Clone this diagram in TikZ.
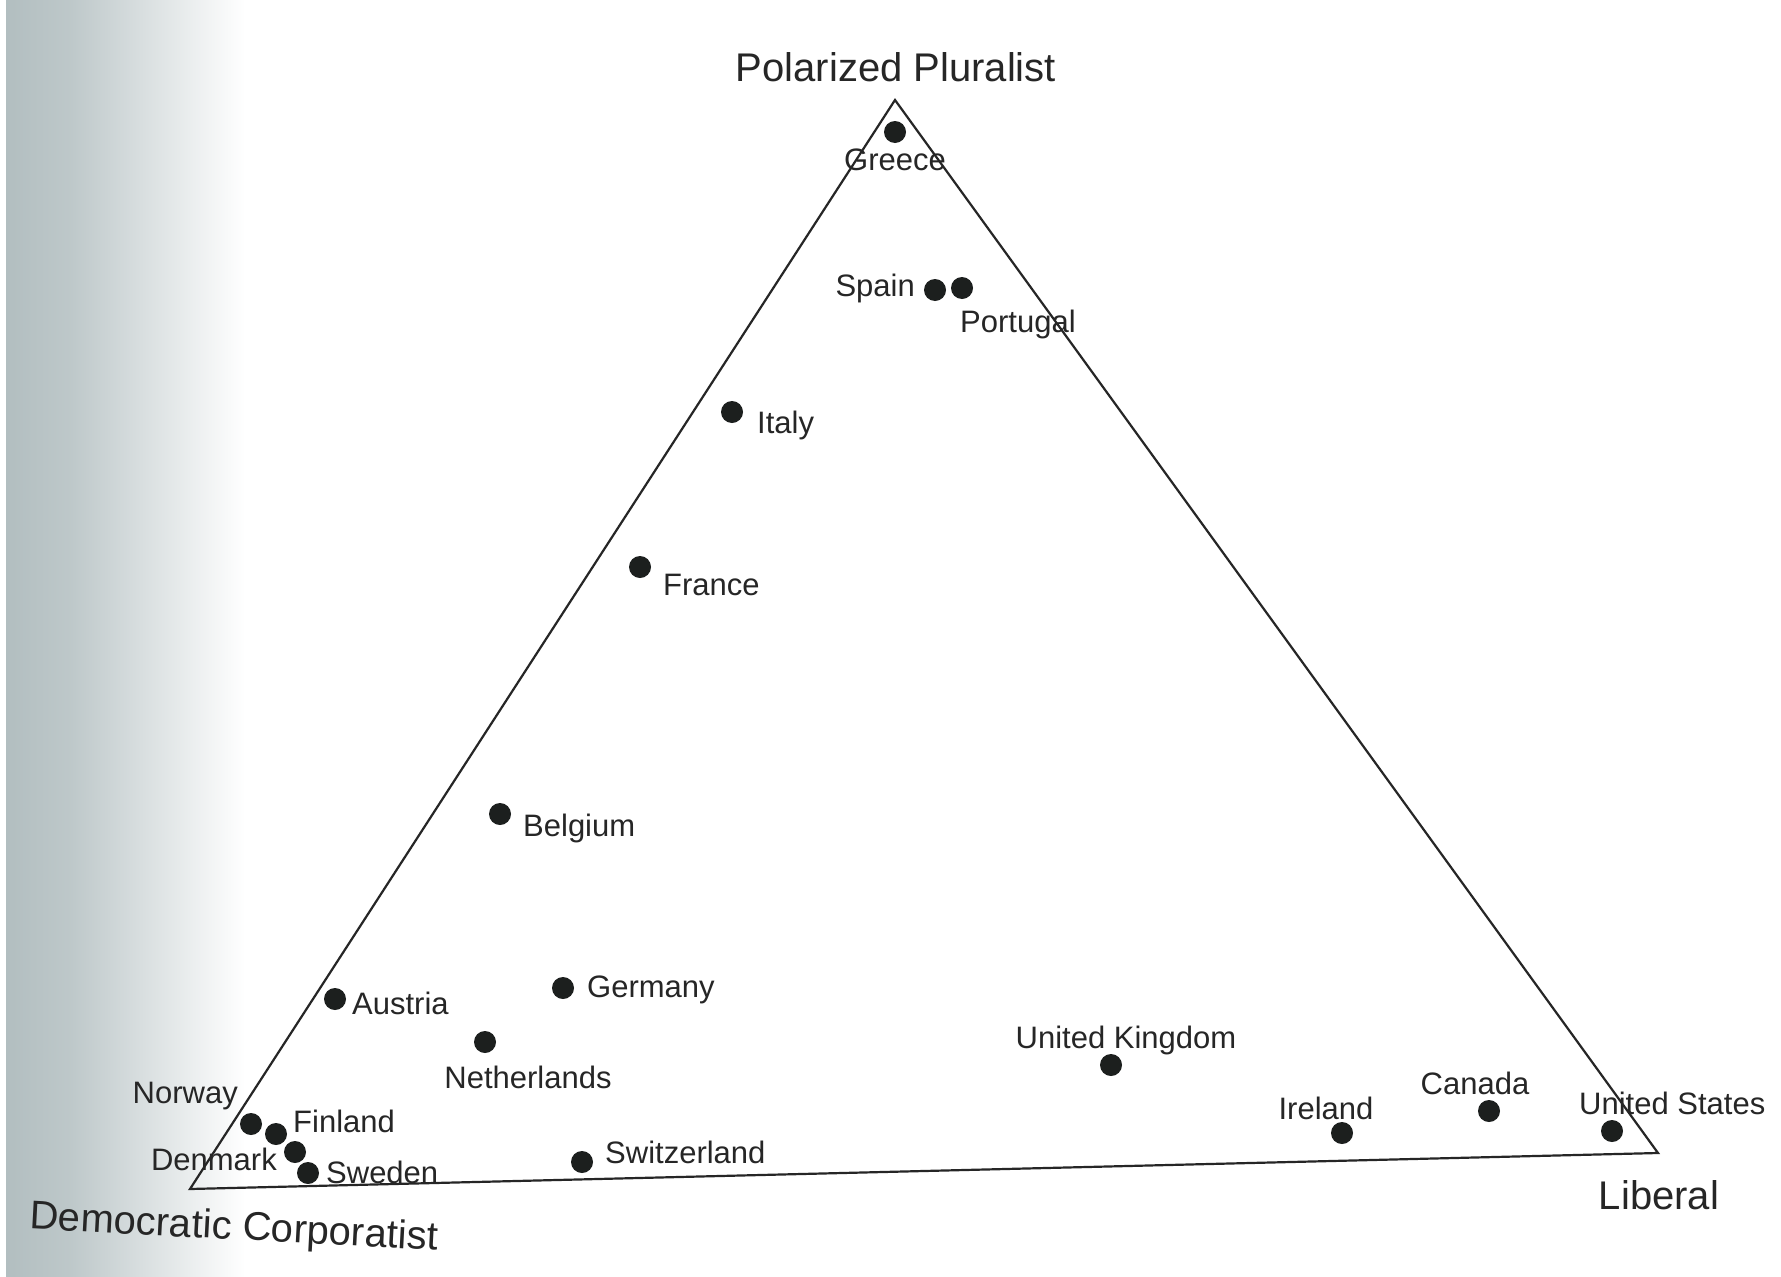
\documentclass[tikz,border=0pt]{standalone}
\usepackage{fontspec}
\setmainfont{Liberation Sans}
\definecolor{ink}{RGB}{38,38,38}
\definecolor{dotink}{RGB}{28,31,30}
\definecolor{gutter}{RGB}{178,190,192}
\tikzset{
  dot/.style={circle, fill=dotink, inner sep=0pt, minimum size=22pt},
  lbl/.style={inner sep=0pt, text=ink, text height=22pt, text depth=0pt,
    font=\fontsize{31}{31}\selectfont},
  corner/.style={inner sep=0pt, text=ink, text height=29pt, text depth=0pt,
    font=\fontsize{40}{40}\selectfont}
}
\begin{document}
\begin{tikzpicture}[x=1pt, y=-1pt]
	\fill[white] (0,0) rectangle (1781,1277);
	\shade[left color=gutter, right color=gutter!85!white] (6,0) rectangle (70,1277);
	\shade[left color=gutter!85!white, right color=white] (70,0) rectangle (245,1277);
	\useasboundingbox (0,0) rectangle (1781,1277);
	% corners of the triangle
	\coordinate (pp) at (895,100);
	\coordinate (dc) at (190,1189);
	\coordinate (lib) at (1658,1153);
	\draw[ink, line width=2.2pt] (pp) -- (dc) -- (lib) -- cycle;
	% countries
	\foreach \n/\x/\y in {greece/895/132, spain/935/290, portugal/962/288, italy/732/412,
	  france/640/567, belgium/500/814, austria/335/999, germany/563/988,
	  netherlands/485/1042, switzerland/582/1162, uk/1111/1065, ireland/1342/1133,
	  canada/1489/1111, usa/1612/1131, norway/251/1124, finland/276/1134,
	  denmark/295/1152, sweden/308/1173}
	\node[dot] (\n) at (\x,\y) {};
	\foreach \n/\a/\x/\y/\t in {greece-l/center/895/159/Greece, spain-l/east/915/285/Spain,
	  portugal-l/west/960/321/Portugal, italy-l/west/757/422/Italy,
	  france-l/west/663/584/France, belgium-l/west/523/825/Belgium,
	  austria-l/west/352/1003/Austria, germany-l/west/587/986/Germany,
	  netherlands-l/center/528/1077/Netherlands, switzerland-l/west/605/1152/Switzerland,
	  uk-l/center/1126/1037/United Kingdom, ireland-l/center/1326/1108/Ireland,
	  canada-l/center/1475/1083/Canada, usa-l/west/1579/1103/United States,
	  norway-l/east/238/1092/Norway, finland-l/west/293/1121/Finland,
	  denmark-l/east/277/1159/Denmark, sweden-l/west/326/1172/Sweden}
	\node[lbl, anchor=\a] (\n) at (\x,\y) {\t};
	% the three types
	\node[corner] (pp-l) at (896,67) {Polarized Pluralist};
	\node[corner, rotate=-3] (dc-l) at (234,1225) {Democratic Corporatist};
	\node[corner] (lib-l) at (1659,1195) {Liberal};
\end{tikzpicture}
\end{document}
